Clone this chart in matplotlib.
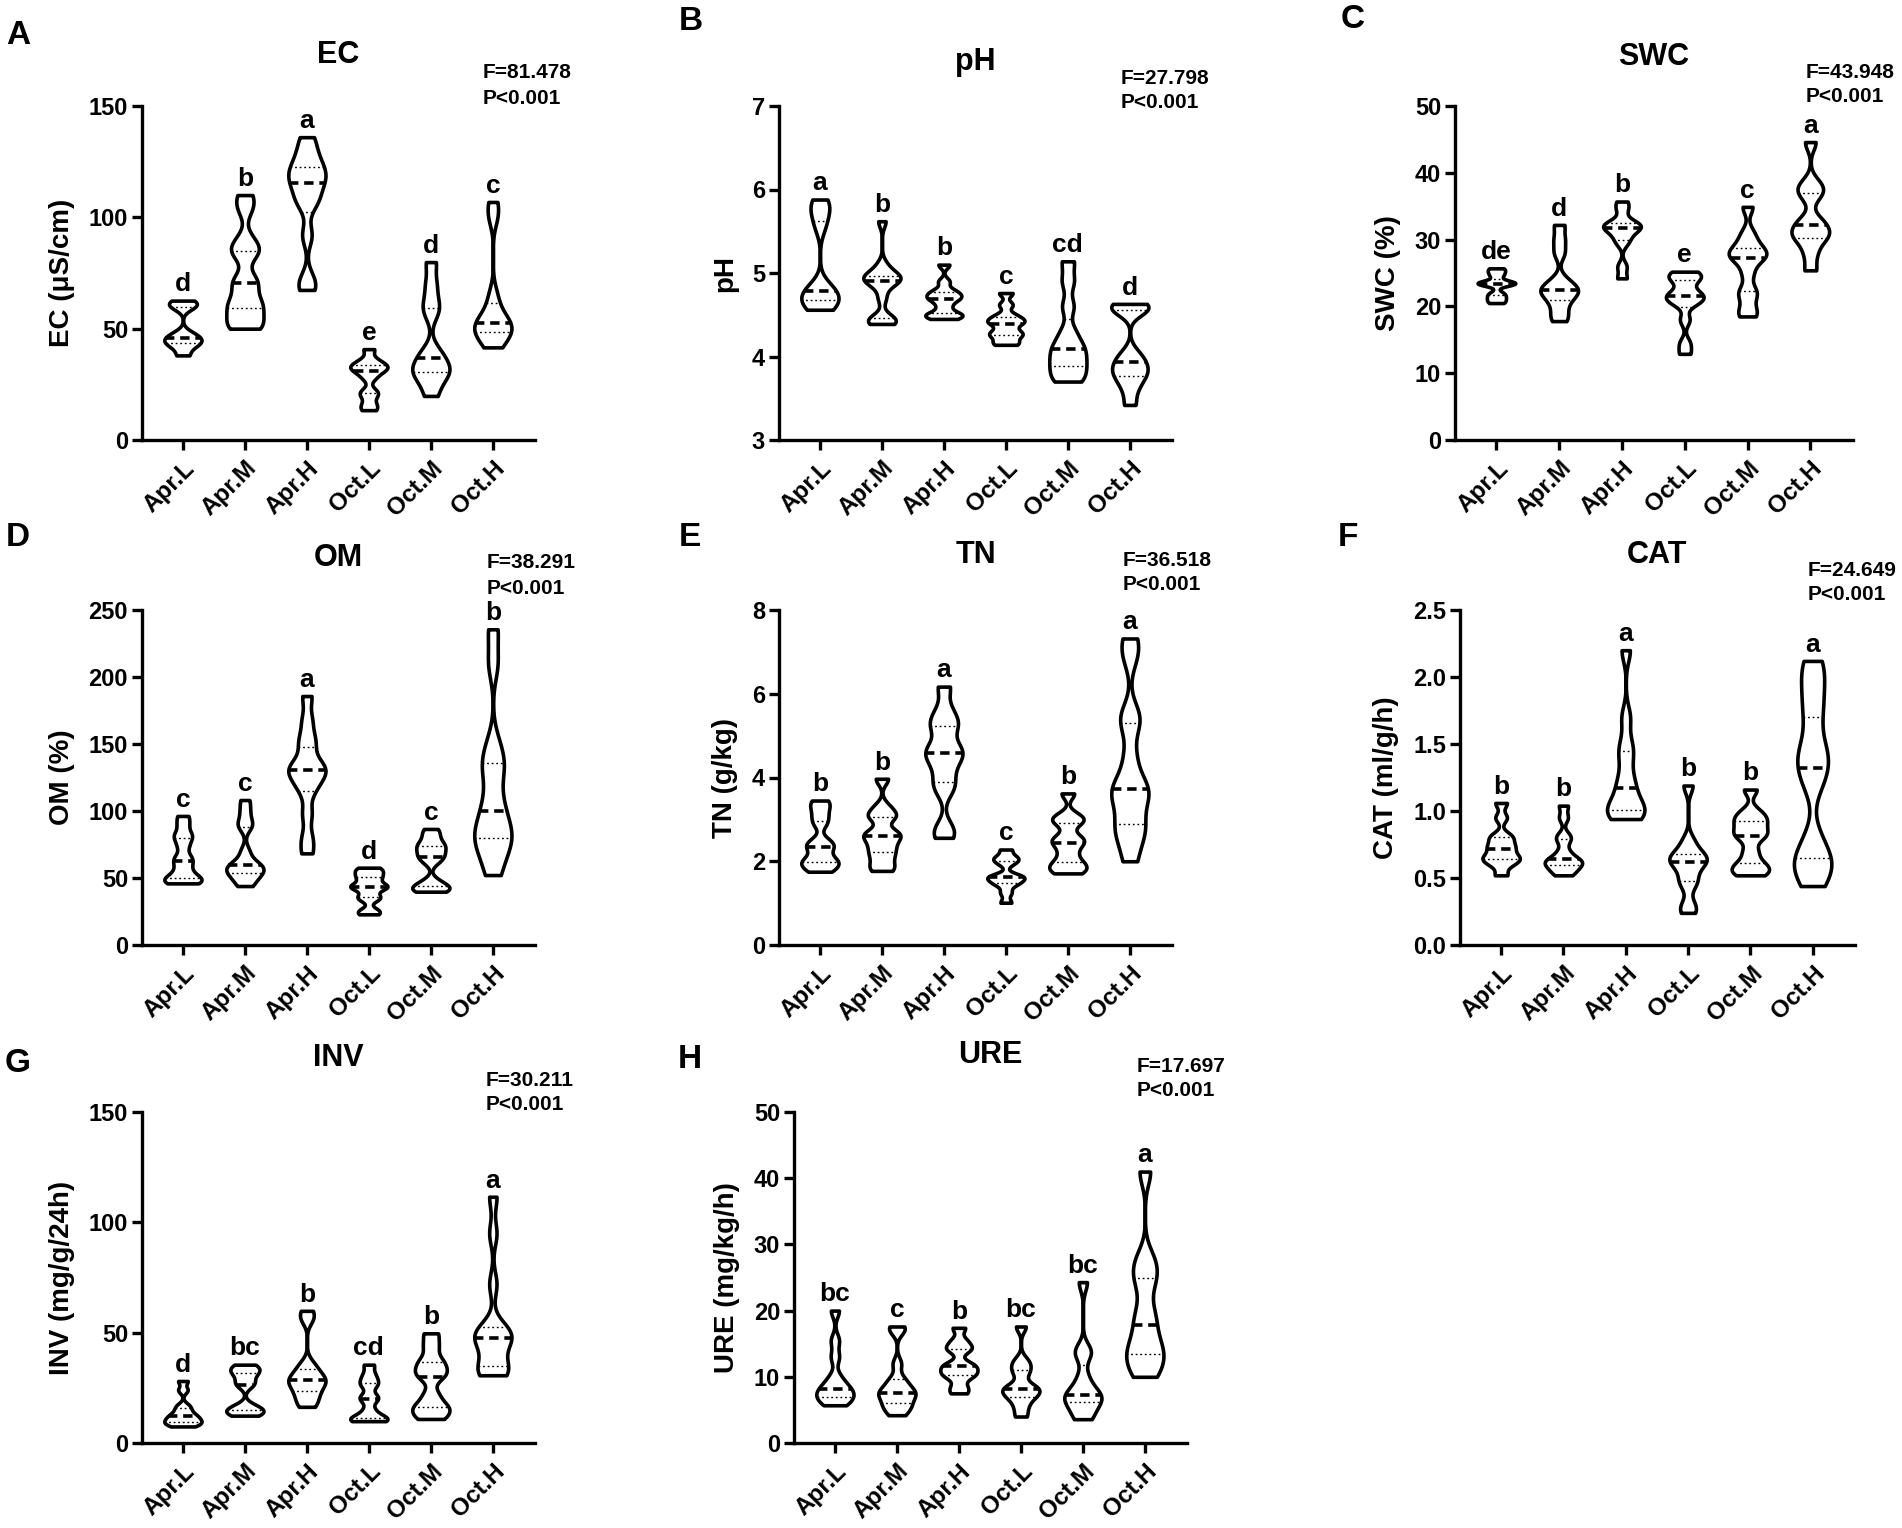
import matplotlib
matplotlib.use("Agg")
import matplotlib.pyplot as plt
import seaborn as sns
import pandas as pd

groups = ["Apr.L", "Apr.M", "Apr.H", "Oct.L", "Oct.M", "Oct.H"]

# sample values per group (min, quartiles, median, max, bumps)
ec_data = [
    [38, 42, 43.5, 45, 46, 48, 59.6, 61, 62.6],
    [50, 51.5, 54, 59.5, 60, 64, 70.4, 72, 84, 85, 90, 104, 110],
    [67.4, 72, 92, 106, 109, 114, 117, 119, 122, 125, 130, 136],
    [13.4, 16, 20, 22, 28, 30.8, 32, 33, 34, 36, 40.8],
    [19.8, 26, 30, 31, 33, 36.8, 40, 57, 62, 70, 79.9],
    [41.6, 45, 48, 49, 51, 52.4, 54, 58, 65, 100, 106.9],
]
ph_data = [
    [4.56, 4.6, 4.65, 4.7, 4.75, 4.79, 4.85, 5.55, 5.7, 5.8, 5.88],
    [4.39, 4.42, 4.44, 4.46, 4.7, 4.85, 4.9, 4.92, 4.95, 4.97, 5.0, 5.1, 5.62],
    [4.45, 4.48, 4.5, 4.52, 4.6, 4.67, 4.7, 4.73, 4.76, 4.8, 4.9, 5.1],
    [4.14, 4.18, 4.25, 4.27, 4.32, 4.39, 4.42, 4.45, 4.5, 4.62, 4.76],
    [3.7, 3.75, 3.85, 3.92, 4.0, 4.09, 4.15, 4.3, 4.6, 4.9, 5.14],
    [3.42, 3.6, 3.72, 3.78, 3.84, 3.9, 3.96, 4.05, 4.55, 4.58, 4.6, 4.63],
]
swc_data = [
    [20.5, 21.0, 21.5, 22.0, 23.3, 23.4, 23.5, 23.7, 24.6, 25.2, 25.7],
    [17.8, 19, 20.5, 21.5, 22.2, 22.5, 23, 24, 28, 30, 32.2],
    [24.2, 26, 29.5, 30.5, 31.3, 31.8, 32, 32.3, 32.8, 34.5, 35.7],
    [12.9, 14.5, 18, 20.5, 20.8, 21.4, 21.8, 22.2, 23.8, 24.3, 24.8, 25.2],
    [18.5, 19.5, 21.5, 22.5, 25, 27, 27.4, 28, 28.5, 29.5, 31, 34.9],
    [25.4, 28, 30, 30.6, 31.2, 32.2, 33, 36.5, 37.5, 38.5, 44.6],
]
om_data = [
    [46, 47, 48.5, 50, 53, 58, 62.7, 66, 74, 80, 83, 90, 96.3],
    [44, 48, 52, 54, 56, 58, 59.5, 62, 70, 88, 92, 100, 108.2],
    [68.4, 80, 98, 115, 122, 127, 130.6, 133, 136, 148, 155, 168, 185.8],
    [22.9, 26, 34, 37, 42, 43.5, 45, 49, 52, 55, 57.7],
    [39.8, 41, 43, 44, 48, 62, 65.9, 68, 72, 74, 77, 82, 86.6],
    [52.2, 65, 75, 80, 83, 92, 100.2, 112, 130, 136, 150, 210, 235.6],
]
tn_data = [
    [1.75, 1.85, 1.95, 2.0, 2.1, 2.3, 2.38, 2.5, 2.9, 3.1, 3.3, 3.45],
    [1.77, 1.9, 2.1, 2.25, 2.4, 2.55, 2.65, 2.7, 3.05, 3.1, 3.3, 3.97],
    [2.56, 2.8, 3.7, 3.95, 4.3, 4.5, 4.65, 4.75, 5.2, 5.3, 5.6, 6.17],
    [1.01, 1.25, 1.45, 1.5, 1.6, 1.63, 1.65, 1.95, 2.05, 2.1, 2.28],
    [1.71, 1.8, 1.9, 2.0, 2.2, 2.4, 2.49, 2.6, 2.9, 3.0, 3.1, 3.62],
    [2.0, 2.5, 2.8, 2.9, 3.4, 3.6, 3.72, 3.9, 4.5, 5.3, 5.5, 6.9, 7.32],
]
cat_data = [
    [0.52, 0.6, 0.63, 0.65, 0.67, 0.72, 0.74, 0.79, 0.82, 0.95, 1.06],
    [0.52, 0.55, 0.58, 0.6, 0.62, 0.63, 0.65, 0.7, 0.78, 0.82, 0.95, 1.04],
    [0.94, 0.97, 1.0, 1.02, 1.08, 1.17, 1.25, 1.4, 1.5, 1.7, 2.2],
    [0.24, 0.3, 0.45, 0.5, 0.58, 0.62, 0.64, 0.66, 0.7, 0.78, 1.19],
    [0.52, 0.55, 0.58, 0.62, 0.7, 0.8, 0.83, 0.87, 0.92, 0.95, 1.0, 1.16],
    [0.44, 0.55, 0.62, 0.65, 0.8, 1.2, 1.32, 1.4, 1.5, 1.7, 1.85, 2.0, 2.12],
]
inv_data = [
    [7.5, 8.5, 9.2, 10, 11, 12.1, 13, 15, 17, 24, 28.1],
    [12.4, 13.5, 14.5, 15.5, 17, 26.1, 28, 31, 32.5, 34, 35.5],
    [16.4, 19, 22, 24, 26.5, 28, 28.8, 30.5, 33, 36, 56, 59.9],
    [9.9, 10.5, 11, 11.5, 15, 19.9, 21, 26, 28, 31, 35.5],
    [10.9, 13, 16, 17, 22, 29.9, 32, 35, 38, 44, 49.7],
    [30.7, 32, 33.5, 35, 42, 46, 47.4, 49, 51, 52.4, 72, 95, 111.6],
]
ure_data = [
    [5.7, 6.3, 6.8, 7.2, 7.8, 8.2, 8.8, 10, 13, 15.5, 20],
    [4.2, 5, 5.8, 6.0, 7, 7.5, 7.6, 8, 9, 9.7, 12, 17, 17.6],
    [7.5, 8.5, 10, 10.4, 11, 11.6, 12, 14, 14.5, 15.5, 17.4],
    [4, 5.5, 6.8, 7.2, 8, 8.2, 8.6, 10.5, 11.5, 12.5, 17.6],
    [3.6, 4.5, 5.8, 6.6, 7.0, 7.2, 8.2, 10, 13.5, 14, 24.3],
    [10, 11.5, 13, 14, 15.5, 17.9, 20, 24, 26, 28, 41],
]

# significance letters per group
ec_letters = ["d", "b", "a", "e", "d", "c"]
ph_letters = ["a", "b", "b", "c", "cd", "d"]
swc_letters = ["de", "d", "b", "e", "c", "a"]
om_letters = ["c", "c", "a", "d", "c", "b"]
tn_letters = ["b", "b", "a", "c", "b", "a"]
cat_letters = ["b", "b", "a", "b", "b", "a"]
inv_letters = ["d", "bc", "b", "cd", "b", "a"]
ure_letters = ["bc", "c", "b", "bc", "bc", "a"]

titles = ["EC", "pH", "SWC", "OM", "TN", "CAT", "INV", "URE"]
ylabels = ["EC (\u03bcS/cm)", "pH", "SWC (%)", "OM (%)", "TN (g/kg)",
           "CAT (ml/g/h)", "INV (mg/g/24h)", "URE (mg/kg/h)"]
f_values = ["81.478", "27.798", "43.948", "38.291", "36.518", "24.649",
            "30.211", "17.697"]
yticks = [
    [0, 50, 100, 150],
    [3, 4, 5, 6, 7],
    [0, 10, 20, 30, 40, 50],
    [0, 50, 100, 150, 200, 250],
    [0, 2, 4, 6, 8],
    [0.0, 0.5, 1.0, 1.5, 2.0, 2.5],
    [0, 50, 100, 150],
    [0, 10, 20, 30, 40, 50],
]
all_data = [ec_data, ph_data, swc_data, om_data, tn_data, cat_data, inv_data, ure_data]
all_letters = [ec_letters, ph_letters, swc_letters, om_letters, tn_letters,
               cat_letters, inv_letters, ure_letters]
panel_tags = ["A", "B", "C", "D", "E", "F", "G", "H"]

plt.rcParams['font.family'] = ['Liberation Sans', 'DejaVu Sans']
plt.rcParams['font.weight'] = 'bold'
plt.rcParams['axes.labelweight'] = 'bold'

fig = plt.figure(figsize=(19.02, 15.28), dpi=100)

W, H = 1902.0, 1528.0
# axes boxes in pixels: left, top, right, bottom
boxes = [
    (142, 106, 535, 440), (779, 106, 1172, 440), (1455, 106, 1853, 440),
    (142, 610, 535, 945), (779, 610, 1172, 945), (1460, 610, 1855, 945),
    (142, 1112, 535, 1443), (794, 1112, 1187, 1443),
]
# pixel centres: panel tag, title y, F line y, P line y
tag_pos = [(18, 35), (691, 22), (1353, 20), (18, 537), (690, 537), (1348, 537),
           (18, 1063), (690, 1060)]
title_y = [55, 62, 57, 558, 555, 555, 1058, 1055]
f_line_y = [(73, 98), (78, 102), (73, 97), (563, 588), (560, 584), (570, 595),
            (1080, 1105), (1067, 1091)]
f_left = [0.868, 0.87, 0.88, 0.876, 0.875, 0.88, 0.875, 0.873]

for k in range(8):
    l, t, r, b = boxes[k]
    ax = fig.add_axes([l / W, 1 - b / H, (r - l) / W, (b - t) / H])
    data = all_data[k]
    df = pd.DataFrame({
        "group": [g for g, vals in zip(groups, data) for _ in vals],
        "value": [v for vals in data for v in vals],
    })
    sns.violinplot(data=df, x="group", y="value", order=groups, ax=ax,
                   inner="quart", cut=0, density_norm="width", width=0.6,
                   bw_adjust=0.36, color="white", linecolor="black",
                   linewidth=2.6, saturation=1)
    # median thick dashed, quartiles thin dotted
    for i, line in enumerate(ax.lines):
        if i % 3 == 1:
            line.set_linewidth(2.6)
            line.set_linestyle((0, (2.6, 1.6)))
        else:
            line.set_linewidth(1.0)
            line.set_linestyle((0, (1.3, 2.0)))
        line.set_color("black")

    ticks = yticks[k]
    ax.set_ylim(ticks[0], ticks[-1])
    ax.set_yticks(ticks)
    if k == 5:
        ax.set_yticklabels(["%.1f" % v for v in ticks])
    ax.set_xlim(-0.66, 5.68)
    ax.set_xticks(range(6))
    ax.set_xticklabels(groups, rotation=45, ha="right", rotation_mode="anchor",
                       fontsize=17.5, fontweight="bold")
    for lbl in ax.get_yticklabels():
        lbl.set_fontweight("bold")
        lbl.set_fontsize(17)
    ax.tick_params(axis="both", direction="out", length=7, width=2.4, pad=3)
    ax.tick_params(axis="x", pad=5)
    for s in ["top", "right"]:
        ax.spines[s].set_visible(False)
    for s in ["left", "bottom"]:
        ax.spines[s].set_linewidth(2.4)
    ax.set_xlabel("")
    ax.set_ylabel(ylabels[k], fontsize=20, fontweight="bold", labelpad=10)

    for i, vals in enumerate(data):
        ax.annotate(all_letters[k][i], (i, max(vals)), xytext=(0, 3),
                    textcoords="offset points", ha="center", va="bottom",
                    fontsize=19, fontweight="bold")

    fig.text((l + r) / 2 / W, 1 - title_y[k] / H, titles[k], ha="center",
             va="center", fontsize=22, fontweight="bold")
    fx = (l + f_left[k] * (r - l)) / W
    fig.text(fx, 1 - f_line_y[k][0] / H, "F=" + f_values[k], ha="left",
             va="center", fontsize=15, fontweight="bold")
    fig.text(fx, 1 - f_line_y[k][1] / H, "P<0.001", ha="left",
             va="center", fontsize=15, fontweight="bold")

    tx, ty = tag_pos[k]
    fig.text(tx / W, 1 - ty / H, panel_tags[k], ha="center", va="center",
             fontsize=24, fontweight="bold")

fig.savefig("out.png", dpi=100)
